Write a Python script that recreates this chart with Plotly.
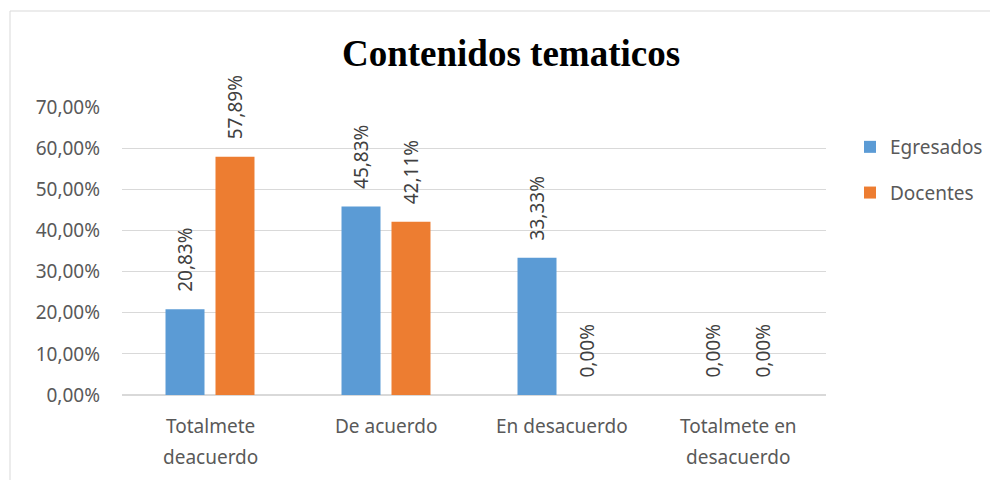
import plotly.graph_objects as go

categories = ["Totalmete<br>deacuerdo", "De acuerdo", "En desacuerdo", "Totalmete en<br>desacuerdo"]
egresados = [0.2083, 0.4583, 0.3333, 0.0]
docentes = [0.5789, 0.4211, 0.0, 0.0]
y_ticks = [0.0, 0.1, 0.2, 0.3, 0.4, 0.5, 0.6, 0.7]


def pct(values):
    # leading spaces push the rotated label clear of the bar end, like Excel does
    return ["\u2002\u00a0" + f"{v * 100:.2f}%".replace(".", ",") for v in values]


# the page adds an 8px body margin, so positions are page pixels minus 8
W, H = 998, 480
L, T = 114, 99
R, B = W - 818, H - 387
pw, ph = W - L - R, H - T - B
FONT = "Noto Sans, Open Sans, sans-serif"

fig = go.Figure()
for name, vals, color, group in [("Egresados", egresados, "#5b9bd5", "g1"),
                                 ("Docentes", docentes, "#ed7d31", "g2")]:
    fig.add_trace(go.Bar(
        x=categories, y=vals, name=name, marker=dict(color=color, line_width=0),
        text=pct(vals), textposition="outside", textangle=-90,
        textfont=dict(family=FONT, size=19, color="#404040"),
        cliponaxis=False, legendgroup=group,
    ))

# category labels as annotations so the two lines get Excel's wider spacing
for cat in categories:
    for i, line in enumerate(cat.split("<br>")):
        fig.add_annotation(x=cat, xref="x", y=(387 - (418 + 31 * i)) / ph, yref="paper",
                           text=line, showarrow=False, yanchor="middle",
                           font=dict(family=FONT, size=19, color="#595959"))

fig.update_layout(
    width=W, height=H,
    margin=dict(l=L, r=R, t=T, b=B),
    paper_bgcolor="white", plot_bgcolor="white",
    separators=",.",
    barmode="group", bargap=0.432, bargroupgap=0.22,
    uniformtext=dict(minsize=19, mode="show"),
    font=dict(family=FONT, size=19, color="#595959"),
    title=dict(text="<b>Contenidos tematicos</b>", x=503 / W, xanchor="center",
               y=1 - 45 / H, yanchor="middle",
               font=dict(family="Liberation Serif, Times New Roman, serif", size=37, color="black")),
    xaxis=dict(showgrid=False, showline=False, ticks="", showticklabels=False),
    yaxis=dict(range=[0, 0.7], tickvals=y_ticks, tickformat=".2%",
               showgrid=True, gridcolor="#d9d9d9", gridwidth=1,
               zeroline=True, zerolinecolor="#d9d9d9", showline=False,
               ticks="", ticklen=0, ticklabelstandoff=21,
               tickfont=dict(size=19, color="#595959")),
    legend=dict(x=(842 - L) / pw, xanchor="left", y=(387 - 120) / ph, yanchor="top",
                traceorder="grouped", tracegroupgap=18,
                font=dict(size=19, color="#595959"), itemwidth=30),
    showlegend=True,
)

# chart area border (top and left edges visible)
fig.add_shape(type="line", xref="paper", yref="paper",
              x0=(2 - L) / pw, x1=(W - L) / pw, y0=(387 - 3) / ph, y1=(387 - 3) / ph,
              line=dict(color="#d9d9d9", width=1))
fig.add_shape(type="line", xref="paper", yref="paper",
              x0=(2 - L) / pw, x1=(2 - L) / pw, y0=(387 - 3) / ph, y1=(387 - H) / ph,
              line=dict(color="#d9d9d9", width=1))

fig.write_html("out.html")
